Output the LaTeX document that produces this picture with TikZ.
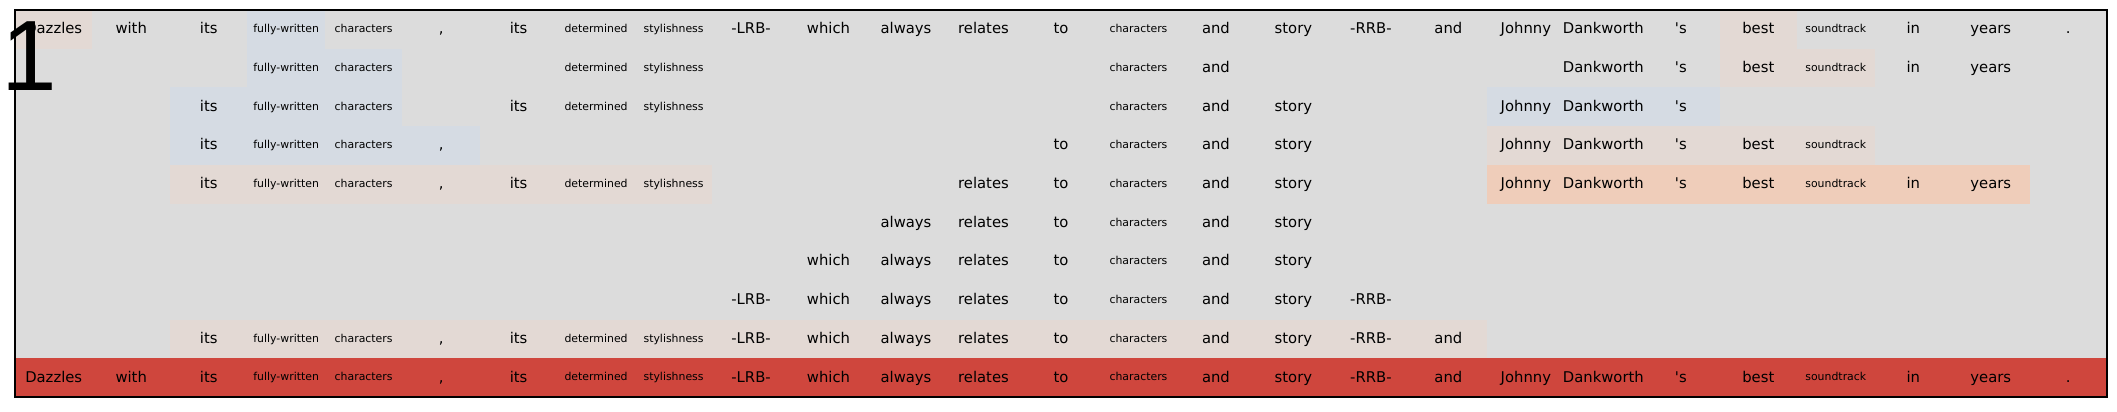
\documentclass[tikz,border=0pt]{standalone}
\usepackage{fontspec}
\setmainfont{DejaVu Sans}[Ligatures=TeXOff]
\newfontfamily\onefont{Liberation Sans}
\definecolor{bggray}{RGB}{220,220,220}
\definecolor{tbeige}{RGB}{227,217,212}
\definecolor{tblue}{RGB}{213,219,227}
\definecolor{tpeach}{RGB}{239,205,186}
\definecolor{tred}{RGB}{207,70,61}
\def\defword#1#2#3{\expandafter\def\csname w#1\endcsname{#2}\expandafter\def\csname s#1\endcsname{#3}}
\defword{0}{Dazzles}{14.8}
\defword{1}{with}{14.8}
\defword{2}{its}{14.8}
\defword{3}{fully-written}{10.9}
\defword{4}{characters}{10.9}
\defword{5}{,}{14.8}
\defword{6}{its}{14.8}
\defword{7}{determined}{10.9}
\defword{8}{stylishness}{10.9}
\defword{9}{-LRB-}{14.8}
\defword{10}{which}{14.8}
\defword{11}{always}{14.8}
\defword{12}{relates}{14.8}
\defword{13}{to}{14.8}
\defword{14}{characters}{10.9}
\defword{15}{and}{14.8}
\defword{16}{story}{14.8}
\defword{17}{-RRB-}{14.8}
\defword{18}{and}{14.8}
\defword{19}{Johnny}{14.8}
\defword{20}{Dankworth}{14.8}
\defword{21}{'s}{14.8}
\defword{22}{best}{14.8}
\defword{23}{soundtrack}{10.9}
\defword{24}{in}{14.8}
\defword{25}{years}{14.8}
\defword{26}{.}{14.8}
\newcommand{\cellfill}[4]{\fill[#4] ({15+#2*77.48},{10+#1*38.7}) rectangle ({15+(#3+1)*77.48},{10+(#1+1)*38.7});}
\begin{document}
\begin{tikzpicture}[x=1pt,y=-1pt,
  tok/.style={anchor=base, inner sep=0pt, text=black}]
\useasboundingbox (0,0) rectangle (2117,412);
\fill[bggray] (15,10) rectangle (2107,397);
% highlighted cells
\cellfill{0}{0}{0}{tbeige}
\cellfill{0}{3}{3}{tblue}
\cellfill{0}{22}{22}{tbeige}
\cellfill{1}{3}{4}{tblue}
\cellfill{1}{22}{23}{tbeige}
\cellfill{2}{2}{4}{tblue}
\cellfill{2}{19}{21}{tblue}
\cellfill{3}{2}{5}{tblue}
\cellfill{3}{19}{23}{tbeige}
\cellfill{4}{2}{8}{tbeige}
\cellfill{4}{19}{25}{tpeach}
\cellfill{8}{2}{18}{tbeige}
\cellfill{9}{0}{26}{tred}
% tokens
\foreach \r/\cl in {0/{0,...,26},
  1/{3,4,7,8,14,15,20,21,22,23,24,25},
  2/{2,3,4,6,7,8,14,15,16,19,20,21},
  3/{2,3,4,5,13,14,15,16,19,20,21,22,23},
  4/{2,3,4,5,6,7,8,12,13,14,15,16,19,20,21,22,23,24,25},
  5/{11,12,13,14,15,16},
  6/{10,11,12,13,14,15,16},
  7/{9,10,11,12,13,14,15,16,17},
  8/{2,3,4,5,6,7,8,9,10,11,12,13,14,15,16,17,18},
  9/{0,...,26}}{
  \foreach \c in \cl {
    \expandafter\let\expandafter\tw\csname w\c\endcsname
    \edef\ts{\csname s\c\endcsname}
    \pgfmathsetmacro\tyo{-0.3*\ts}
    \node[tok, font=\fontsize{\ts}{\ts}\selectfont, yshift=\tyo pt] (t\r-\c) at ({15+(\c+0.5)*77.48},{10+(\r+0.5)*38.7}) {\tw};
  }
}
\draw[line width=1.2pt] (15,10) rectangle (2107,397);
\node[anchor=base west, inner sep=0pt, font=\onefont\fontsize{100}{100}\selectfont] (num) at (1.5,90) {1};
\end{tikzpicture}
\end{document}
